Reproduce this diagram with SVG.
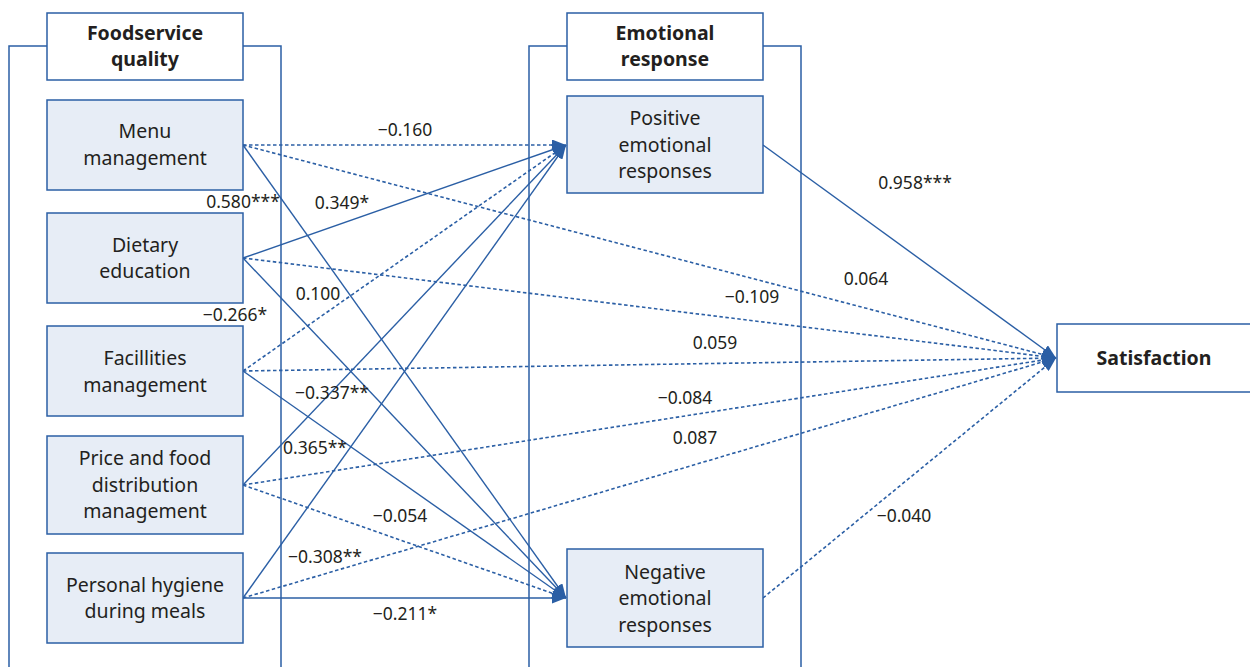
<svg xmlns="http://www.w3.org/2000/svg" width="1250" height="667" viewBox="0 0 1250 667">
<style>
.frame{fill:none;stroke:#2b5fa5;stroke-width:1.5}
.title{fill:#ffffff;stroke:#2b5fa5;stroke-width:1.5}
.node{fill:#e7edf6;stroke:#2b5fa5;stroke-width:1.5}
.t{font-family:"Noto Sans","Liberation Sans",sans-serif;font-size:19.5px;fill:#231f20;text-anchor:middle}
.b{font-weight:bold}
.lab{font-family:"Noto Sans","Liberation Sans",sans-serif;font-size:17.5px;fill:#231f20;text-anchor:middle}
.s{fill:none;stroke:#2b5fa5;stroke-width:1.4;marker-end:url(#ah)}
.d{fill:none;stroke:#2b5fa5;stroke-width:1.6;stroke-dasharray:3.5 2.5;marker-end:url(#ah)}
</style>
<defs>
<marker id="ah" viewBox="0 0 14 11" refX="14" refY="5.5" markerWidth="14" markerHeight="11" markerUnits="userSpaceOnUse" orient="auto">
<path d="M0,0 L14,5.5 L0,11 z" fill="#2b5fa5"/>
</marker>
</defs>
<rect width="1250" height="667" fill="#ffffff"/>
<g id="frames">
<path class="frame" d="M9,667 V46 H47 M243,46 H281 V667"/>
<path class="frame" d="M529,667 V46 H567 M763,46 H801 V667"/>
</g>
<g id="connectors">
<line class="d" x1="243" y1="145" x2="566" y2="145"/>
<line class="s" x1="243" y1="145" x2="566" y2="598"/>
<line class="d" x1="243" y1="145" x2="1056" y2="358"/>
<line class="s" x1="243" y1="258" x2="566" y2="145"/>
<line class="s" x1="243" y1="258" x2="566" y2="598"/>
<line class="d" x1="243" y1="258" x2="1056" y2="358"/>
<line class="d" x1="243" y1="371" x2="566" y2="145"/>
<line class="s" x1="243" y1="371" x2="566" y2="598"/>
<line class="d" x1="243" y1="371" x2="1056" y2="358"/>
<line class="s" x1="243" y1="485" x2="566" y2="145"/>
<line class="d" x1="243" y1="485" x2="566" y2="598"/>
<line class="d" x1="243" y1="485" x2="1056" y2="358"/>
<line class="s" x1="243" y1="598" x2="566" y2="145"/>
<line class="s" x1="243" y1="598" x2="566" y2="598"/>
<line class="d" x1="243" y1="598" x2="1056" y2="358"/>
<line class="s" x1="763" y1="145" x2="1056" y2="358"/>
<line class="d" x1="763" y1="598" x2="1056" y2="358"/>
</g>
<g id="labels">
<text class="lab" x="405" y="136">−0.160</text>
<text class="lab" x="243" y="208">0.580***</text>
<text class="lab" x="342" y="209">0.349*</text>
<text class="lab" x="915" y="189">0.958***</text>
<text class="lab" x="866" y="285">0.064</text>
<text class="lab" x="318" y="300">0.100</text>
<text class="lab" x="752" y="303">−0.109</text>
<text class="lab" x="235" y="321">−0.266*</text>
<text class="lab" x="715" y="349">0.059</text>
<text class="lab" x="332" y="399">−0.337**</text>
<text class="lab" x="685" y="404">−0.084</text>
<text class="lab" x="315" y="454">0.365**</text>
<text class="lab" x="695" y="444">0.087</text>
<text class="lab" x="400" y="522">−0.054</text>
<text class="lab" x="904" y="522">−0.040</text>
<text class="lab" x="325" y="563">−0.308**</text>
<text class="lab" x="405" y="620">−0.211*</text>
</g>
<g id="foodservice-quality">
<rect class="title" x="47" y="13" width="196" height="67"/>
<text class="t b" x="145" y="40">Foodservice</text>
<text class="t b" x="145" y="66">quality</text>
</g>
<g id="menu-management">
<rect class="node" x="47" y="100" width="196" height="90"/>
<text class="t" x="145" y="138">Menu</text>
<text class="t" x="145" y="165">management</text>
</g>
<g id="dietary-education">
<rect class="node" x="47" y="213" width="196" height="90"/>
<text class="t" x="145" y="252">Dietary</text>
<text class="t" x="145" y="278">education</text>
</g>
<g id="facilities-management">
<rect class="node" x="47" y="326" width="196" height="90"/>
<text class="t" x="145" y="365">Facillities</text>
<text class="t" x="145" y="392">management</text>
</g>
<g id="price-food-distribution">
<rect class="node" x="47" y="436" width="196" height="98"/>
<text class="t" x="145" y="465">Price and food</text>
<text class="t" x="145" y="492">distribution</text>
<text class="t" x="145" y="518">management</text>
</g>
<g id="personal-hygiene">
<rect class="node" x="47" y="553" width="196" height="90"/>
<text class="t" x="145" y="592">Personal hygiene</text>
<text class="t" x="145" y="618">during meals</text>
</g>
<g id="emotional-response">
<rect class="title" x="567" y="13" width="196" height="67"/>
<text class="t b" x="665" y="40">Emotional</text>
<text class="t b" x="665" y="66">response</text>
</g>
<g id="positive-emotional">
<rect class="node" x="567" y="96" width="196" height="97"/>
<text class="t" x="665" y="125">Positive</text>
<text class="t" x="665" y="152">emotional</text>
<text class="t" x="665" y="178">responses</text>
</g>
<g id="negative-emotional">
<rect class="node" x="567" y="549" width="196" height="98"/>
<text class="t" x="665" y="579">Negative</text>
<text class="t" x="665" y="605">emotional</text>
<text class="t" x="665" y="632">responses</text>
</g>
<g id="satisfaction">
<rect class="title" x="1057" y="324" width="200" height="68"/>
<text class="t b" x="1154" y="365">Satisfaction</text>
</g>
</svg>
